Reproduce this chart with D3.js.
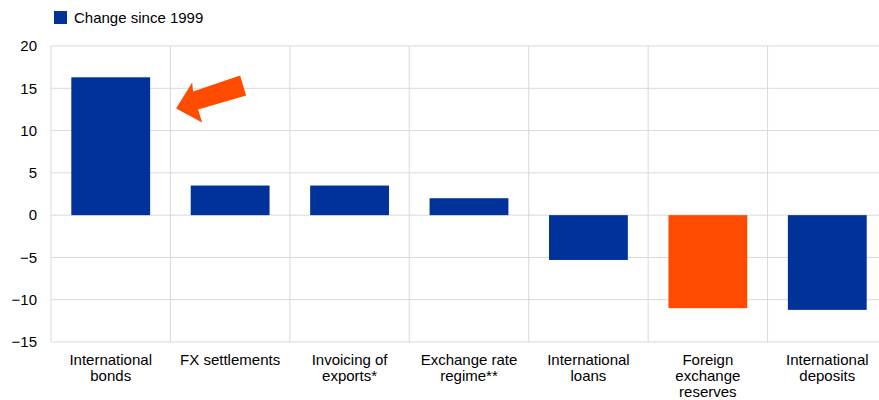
<!DOCTYPE html>
<html>
<head>
<meta charset="utf-8">
<script src="https://cdn.jsdelivr.net/npm/d3@7"></script>
<style>
  body { margin: 0; background: #fff; }
  svg text { font-family: "Liberation Sans", Arial, sans-serif; font-size: 15px; fill: #000; }
</style>
</head>
<body>
<div id="container"></div>
<script>
// categories (multi-line labels) and values
const categories = [
    ["International", "bonds"],
    ["FX settlements"],
    ["Invoicing of", "exports*"],
    ["Exchange rate", "regime**"],
    ["International", "loans"],
    ["Foreign", "exchange", "reserves"],
    ["International", "deposits"]
];
const values = [16.3, 3.5, 3.5, 2.0, -5.3, -11.0, -11.2];
const highlighted = [false, false, false, false, false, true, false];
const yTicks = [-15, -10, -5, 0, 5, 10, 15, 20];
const seriesName = "Change since 1999";

const width = 879, height = 400;
const margin = {top: 46, right: -8, bottom: 58, left: 51};
const blue = "#003299", orange = "#ff4b00", grid = "#d9d9d9";

const svg = d3.select("#container")
    .append("svg")
    .attr("width", width)
    .attr("height", height);

const x = d3.scaleBand()
    .domain(d3.range(categories.length))
    .range([margin.left, width - margin.right])
    .paddingInner(0.34)
    .paddingOuter(0.17);

const y = d3.scaleLinear()
    .domain([-15, 20])
    .range([height - margin.bottom, margin.top]);

// horizontal gridlines
svg.append("g")
    .selectAll("line")
    .data(yTicks)
    .enter()
    .append("line")
    .attr("x1", margin.left)
    .attr("x2", width - margin.right)
    .attr("y1", d => y(d))
    .attr("y2", d => y(d))
    .attr("stroke", grid)
    .attr("stroke-width", 1);

// vertical category separators
const step = x.step();
const seps = d3.range(categories.length + 1).map(i => margin.left + i * step);
svg.append("g")
    .selectAll("line")
    .data(seps)
    .enter()
    .append("line")
    .attr("x1", d => d)
    .attr("x2", d => d)
    .attr("y1", y(20))
    .attr("y2", y(-15))
    .attr("stroke", grid)
    .attr("stroke-width", 1);

// bars
svg.append("g")
    .selectAll("rect")
    .data(values)
    .enter()
    .append("rect")
    .attr("x", (d, i) => x(i))
    .attr("width", x.bandwidth())
    .attr("y", d => y(Math.max(0, d)))
    .attr("height", d => Math.abs(y(d) - y(0)))
    .attr("fill", (d, i) => highlighted[i] ? orange : blue);

// y axis labels
const yAxis = d3.axisLeft(y).tickValues(yTicks).tickSize(0).tickPadding(14);
svg.append("g")
    .attr("transform", `translate(${margin.left},0)`)
    .call(yAxis)
    .call(g => g.select(".domain").remove())
    .call(g => g.selectAll("text")
        .style("font-family", "'Liberation Sans', Arial, sans-serif")
        .style("font-size", "15px")
        .attr("fill", "#000"));

// category labels
const labels = svg.append("g")
    .selectAll("text")
    .data(categories)
    .enter()
    .append("text")
    .attr("text-anchor", "middle")
    .attr("x", (d, i) => x(i) + x.bandwidth() / 2)
    .attr("y", y(-15) + 23);
labels.selectAll("tspan")
    .data(d => d)
    .enter()
    .append("tspan")
    .attr("x", function() { return d3.select(this.parentNode).attr("x"); })
    .attr("dy", (d, i) => i === 0 ? 0 : 16)
    .text(d => d);

// legend
const legend = svg.append("g");
legend.append("rect")
    .attr("x", 54).attr("y", 11)
    .attr("width", 13).attr("height", 13)
    .attr("fill", blue);
legend.append("text")
    .attr("x", 74).attr("y", 23)
    .text(seriesName);

// annotation arrow pointing at the first bar
const tipX = x(0) + x.bandwidth() + 26, tipY = y(12.6);
const arrow = [
    [0, 0], [16, -26], [17, -17], [64, -33], [70, -13], [22, 1], [26, 14]
];
svg.append("path")
    .attr("d", d3.line()(arrow.map(p => [tipX + p[0], tipY + p[1]])) + "Z")
    .attr("fill", orange);
</script>
</body>
</html>
